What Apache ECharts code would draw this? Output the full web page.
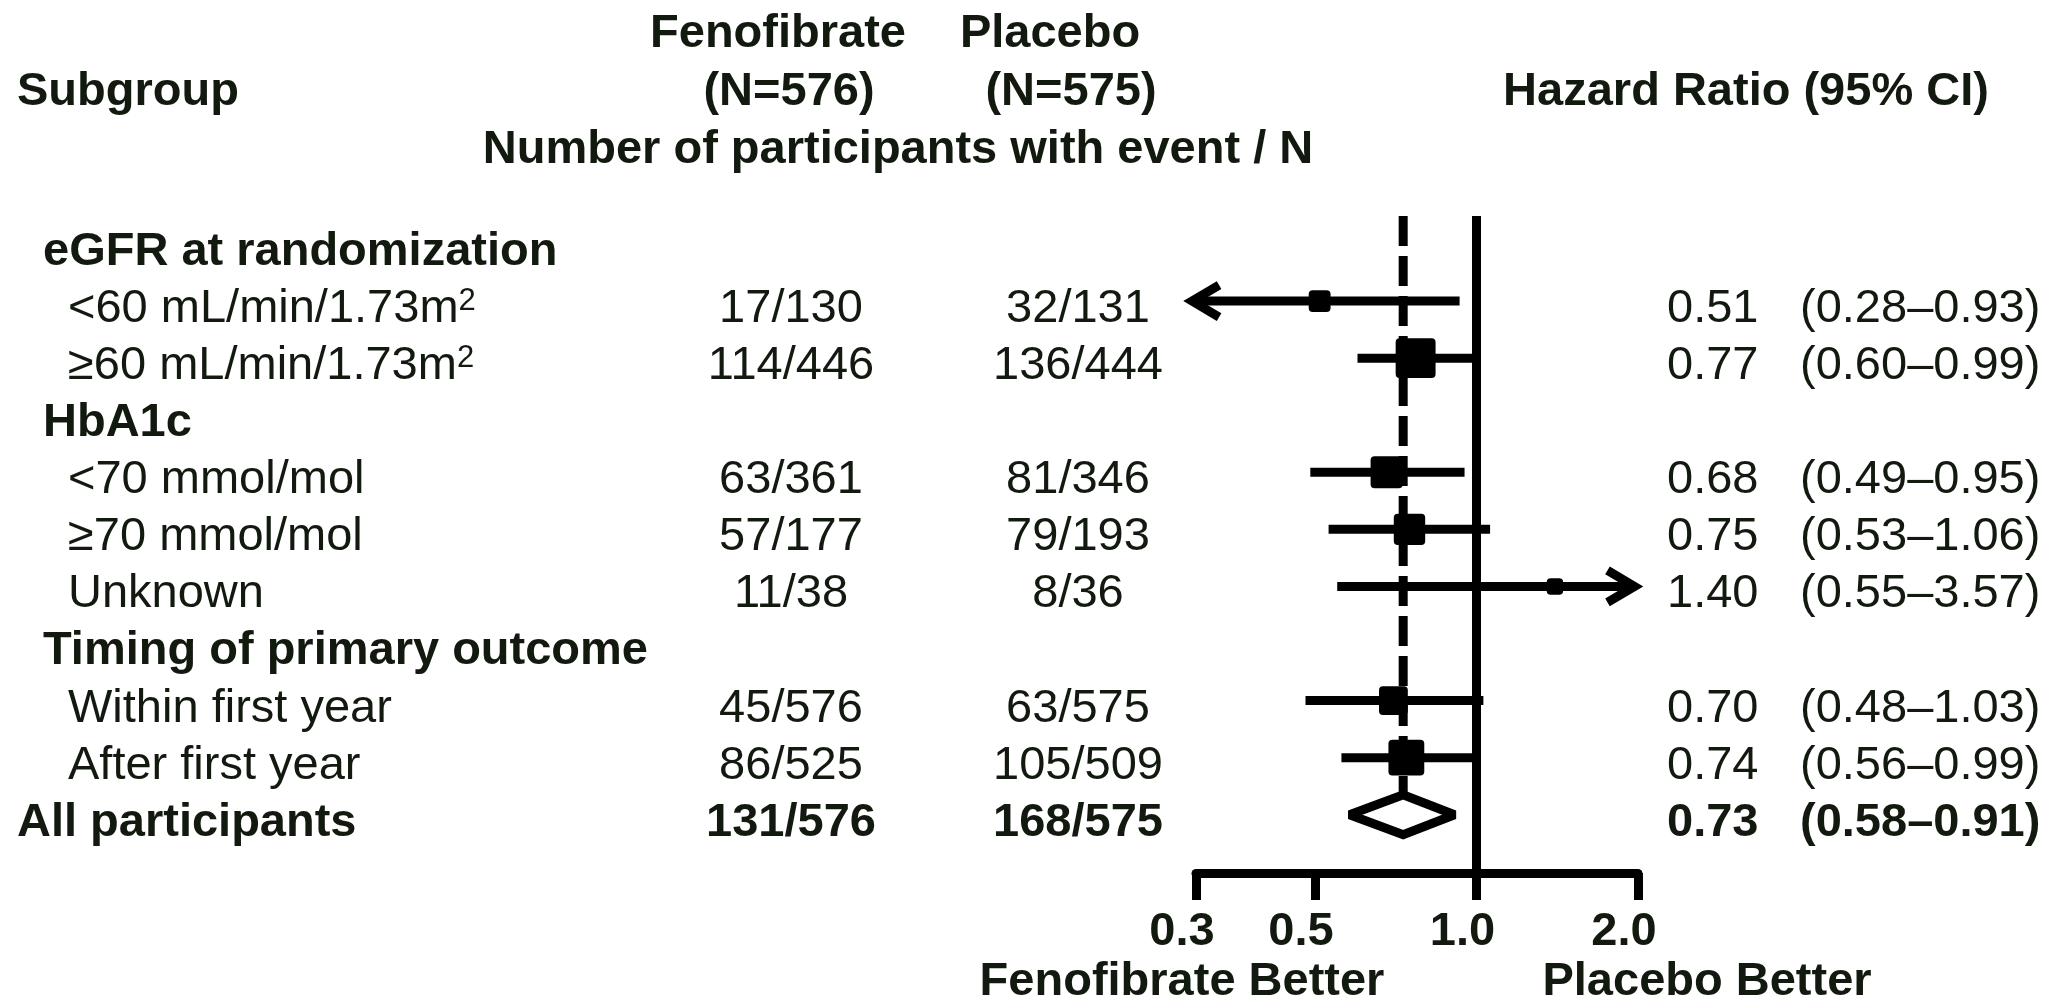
<!DOCTYPE html>
<html>
<head>
<meta charset="utf-8">
<title>Forest plot - fenofibrate vs placebo</title>
<script src="https://cdn.jsdelivr.net/npm/echarts@6/dist/echarts.min.js"></script>
<style>
    html, body { margin: 0; padding: 0; background: #fff; }
    #forest_plot { width: 2059px; height: 999px; }
</style>
</head>
<body>
<div id="forest_plot"></div>
<script>

// Chart data
// ------------------------------

var rowLabels = [
    'eGFR at randomization',
    '<60 mL/min/1.73m²',
    '≥60 mL/min/1.73m²',
    'HbA1c',
    '<70 mmol/mol',
    '≥70 mmol/mol',
    'Unknown',
    'Timing of primary outcome',
    'Within first year',
    'After first year',
    'All participants'
];
var rowKinds = ['group', 'sub', 'sub', 'group', 'sub', 'sub', 'sub', 'group', 'sub', 'sub', 'total'];

var fenofibrateEvents = [null, 17, 114, null, 63, 57, 11, null, 45, 86, 131];
var fenofibrateN      = [null, 130, 446, null, 361, 177, 38, null, 576, 525, 576];
var placeboEvents     = [null, 32, 136, null, 81, 79, 8, null, 63, 105, 168];
var placeboN          = [null, 131, 444, null, 346, 193, 36, null, 575, 509, 575];

var hazardRatio = [null, 0.51, 0.77, null, 0.68, 0.75, 1.40, null, 0.70, 0.74, 0.73];
var ciLower     = [null, 0.28, 0.60, null, 0.49, 0.53, 0.55, null, 0.48, 0.56, 0.58];
var ciUpper     = [null, 0.93, 0.99, null, 0.95, 1.06, 3.57, null, 1.03, 0.99, 0.91];

var hrTicks   = [0.3, 0.5, 1.0, 2.0];
var armNames  = ['Fenofibrate', 'Placebo'];
var armTotals = [576, 575];


// Setup module
// ------------------------------

var EchartsForestPlot = function() {

    // Layout and style
    var TEXT_COLOR = '#121a10';
    var FONT = "'Liberation Sans', Arial, Helvetica, sans-serif";
    var FONT_SIZE = 47;
    var LINE_W = 9;
    var PLOT_TOP = 216;
    var AXIS_Y = 873;
    var ROW_MIN = -0.49, ROW_MAX = 11.02;
    var HR_MIN = 0.3, HR_MAX = 2.0;
    var ARROW_LO = 0.295, ARROW_HI = 1.97;
    var COL = { total: 17, group: 43, sub: 68, feno: 791, placebo: 1078, hr: 1667, ci: 1800 };
    var TEXT_DY = 8;

    var fmt2 = function(v) { return v.toFixed(2); };

    var textEl = function(x, y, text, align, bold) {
        return {
            type: 'text',
            x: x,
            y: y,
            style: {
                text: text,
                fontFamily: FONT,
                fontSize: FONT_SIZE,
                fontWeight: bold ? 'bold' : 'normal',
                fill: TEXT_COLOR,
                align: align,
                verticalAlign: 'middle',
                rich: {
                    sup: {
                        fontFamily: FONT,
                        fontSize: 31,
                        fill: TEXT_COLOR,
                        verticalAlign: 'top'
                    }
                }
            }
        };
    };

    // Table rows (labels and counts)
    var renderTableRow = function(params, api) {
        var i = api.value(1);
        var y = api.coord([0, i])[1] + TEXT_DY;
        var kind = rowKinds[i];
        var bold = kind !== 'sub';
        var xAt = function(v) { return api.coord([v, i])[0]; };
        var children = [];

        var label = rowLabels[i].replace('²', '{sup|2}');
        children.push(textEl(xAt(COL[kind]), y, label, 'left', bold));

        if (hazardRatio[i] != null) {
            children.push(textEl(xAt(COL.feno), y, fenofibrateEvents[i] + '/' + fenofibrateN[i], 'center', bold));
            children.push(textEl(xAt(COL.placebo), y, placeboEvents[i] + '/' + placeboN[i], 'center', bold));
            children.push(textEl(xAt(COL.hr), y, fmt2(hazardRatio[i]), 'left', bold));
            children.push(textEl(xAt(COL.ci), y, '(' + fmt2(ciLower[i]) + '–' + fmt2(ciUpper[i]) + ')', 'left', bold));
        }
        return { type: 'group', children: children };
    };

    // Forest marks (CI lines, boxes, diamond)
    var renderForestRow = function(params, api) {
        var hr = api.value(0), row = api.value(1), lo = api.value(2), hi = api.value(3);
        var c = api.coord([hr, row]);
        var x0 = api.coord([Math.max(lo, ARROW_LO), row])[0];
        var x1 = api.coord([Math.min(hi, ARROW_HI), row])[0];
        var y = c[1];
        var children = [];
        var stroke = { stroke: '#000', lineWidth: LINE_W, lineCap: 'butt' };

        if (rowKinds[row] === 'total') {
            var h = 20;
            var top = api.coord([hr, ROW_MIN])[1];
            children.push({
                type: 'line',
                shape: { x1: c[0], y1: top, x2: c[0], y2: y - h },
                style: { stroke: '#000', lineWidth: LINE_W, lineDash: [30, 10] }
            });
            children.push({
                type: 'polygon',
                shape: { points: [[x0, y], [c[0], y - h], [x1, y], [c[0], y + h]] },
                style: { fill: '#fff', stroke: '#000', lineWidth: LINE_W, lineJoin: 'miter', miterLimit: 2 }
            });
            return { type: 'group', children: children };
        }

        children.push({ type: 'line', shape: { x1: x0, y1: y, x2: x1, y2: y }, style: stroke });

        if (lo < HR_MIN) {
            children.push({
                type: 'polyline',
                shape: { points: [[x0 + 27, y - 16], [x0, y], [x0 + 27, y + 16]] },
                style: { stroke: '#000', lineWidth: LINE_W, lineJoin: 'miter', fill: null }
            });
        }
        if (hi > HR_MAX) {
            children.push({
                type: 'polyline',
                shape: { points: [[x1 - 27, y - 16], [x1, y], [x1 - 27, y + 16]] },
                style: { stroke: '#000', lineWidth: LINE_W, lineJoin: 'miter', fill: null }
            });
        }

        // box size grows with the number of events
        var events = fenofibrateEvents[row] + placeboEvents[row];
        var s = 7.5 + 2.05 * Math.sqrt(events);
        children.push({
            type: 'rect',
            shape: { x: c[0] - s / 2, y: y - s / 2, width: s, height: s, r: 4 },
            style: { fill: '#000' }
        });
        return { type: 'group', children: children };
    };

    var _forestPlot = function() {
        if (typeof echarts == 'undefined') {
            console.warn('Warning - echarts.min.js is not loaded.');
            return;
        }

        var forest_element = document.getElementById('forest_plot');
        if (!forest_element) return;

        var forest_plot = echarts.init(forest_element, null, { renderer: 'canvas' });

        var tableData = rowLabels.map(function(_, i) { return [0, i]; });
        var forestData = [];
        hazardRatio.forEach(function(hr, i) {
            if (hr != null) forestData.push([hr, i, ciLower[i], ciUpper[i]]);
        });

        var boldHeader = function(x, y, text, align) {
            var el = textEl(x, y + 4, text, align, true);
            delete el.style.rich;
            return el;
        };

        forest_plot.setOption({
            animation: false,
            backgroundColor: '#fff',

            grid: [
                { left: 0, right: 0, top: PLOT_TOP, bottom: 999 - AXIS_Y },
                { left: 1196, width: 442, top: PLOT_TOP, bottom: 999 - AXIS_Y }
            ],

            xAxis: [
                { gridIndex: 0, type: 'value', min: 0, max: 2059, show: false },
                {
                    gridIndex: 1,
                    type: 'log',
                    logBase: 10,
                    min: HR_MIN,
                    max: HR_MAX,
                    position: 'bottom',
                    axisLine: { show: true, onZero: false, lineStyle: { color: '#000', width: LINE_W } },
                    axisTick: {
                        show: true,
                        customValues: hrTicks,
                        length: 27,
                        lineStyle: { color: '#000', width: LINE_W }
                    },
                    axisLabel: {
                        show: true,
                        customValues: hrTicks,
                        formatter: function(v) { return Number(v).toFixed(1); },
                        fontFamily: FONT,
                        fontSize: FONT_SIZE,
                        fontWeight: 'bold',
                        color: TEXT_COLOR,
                        margin: 36,
                        padding: [0, 28, 0, 0]
                    },
                    splitLine: { show: false },
                    minorTick: { show: false }
                }
            ],

            yAxis: [
                { gridIndex: 0, type: 'value', inverse: true, min: ROW_MIN, max: ROW_MAX, show: false },
                { gridIndex: 1, type: 'value', inverse: true, min: ROW_MIN, max: ROW_MAX, show: false }
            ],

            graphic: [
                boldHeader(778, 30, armNames[0], 'center'),
                boldHeader(1050, 30, armNames[1], 'center'),
                boldHeader(17, 88, 'Subgroup', 'left'),
                boldHeader(789, 88, '(N=' + armTotals[0] + ')', 'center'),
                boldHeader(1071, 88, '(N=' + armTotals[1] + ')', 'center'),
                boldHeader(1746, 88, 'Hazard Ratio (95% CI)', 'center'),
                boldHeader(898, 146, 'Number of participants with event / N', 'center'),
                boldHeader(1182, 978, armNames[0] + ' Better', 'center'),
                boldHeader(1707, 978, armNames[1] + ' Better', 'center')
            ],

            series: [
                {
                    name: 'table',
                    type: 'custom',
                    xAxisIndex: 0,
                    yAxisIndex: 0,
                    silent: true,
                    clip: false,
                    renderItem: renderTableRow,
                    encode: { x: 0, y: 1 },
                    data: tableData
                },
                {
                    name: 'forest',
                    type: 'custom',
                    xAxisIndex: 1,
                    yAxisIndex: 1,
                    silent: true,
                    clip: false,
                    renderItem: renderForestRow,
                    encode: { x: 0, y: 1 },
                    data: forestData,
                    markLine: {
                        silent: true,
                        animation: false,
                        symbol: ['none', 'none'],
                        label: { show: false },
                        lineStyle: { color: '#000', width: LINE_W, type: 'solid' },
                        data: [{ xAxis: 1 }]
                    }
                }
            ]
        });

        window.addEventListener('resize', function() {
            forest_plot.resize();
        });
    };

    return {
        init: function() {
            _forestPlot();
        }
    };
}();


// Initialize module
// ------------------------------

document.addEventListener('DOMContentLoaded', function() {
    EchartsForestPlot.init();
});
</script>
</body>
</html>
